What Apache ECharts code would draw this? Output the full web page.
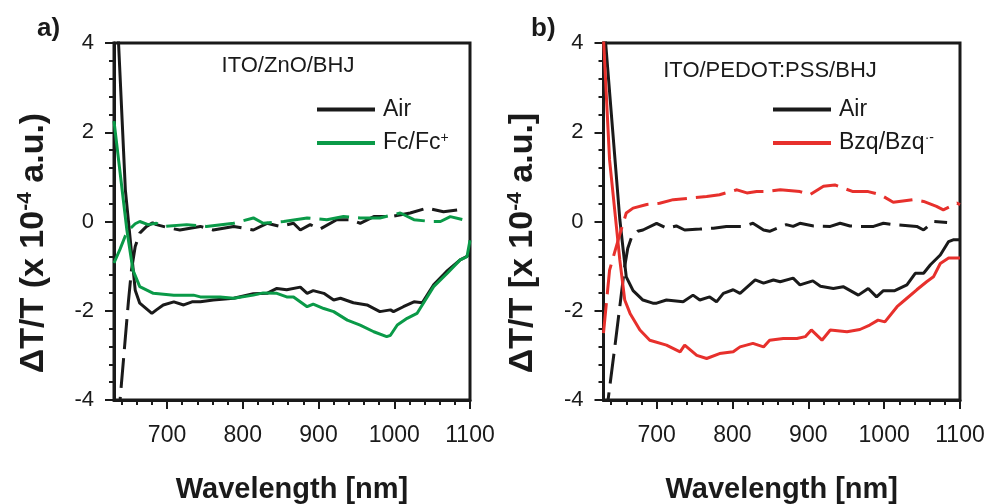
<!DOCTYPE html>
<html lang="en">
<head>
<meta charset="UTF-8">
<title>dT/T spectra</title>
<script src="https://cdn.jsdelivr.net/npm/echarts@6/dist/echarts.min.js"></script>
<style>
    html, body { margin: 0; padding: 0; background: #fff; }
    #main { width: 989px; height: 504px; }
</style>
</head>
<body>
<div id="main"></div>
<script>
    // ---- panel a) ITO/ZnO/BHJ ----
    var airA_wl = [632, 636, 645, 658, 664, 680, 686, 695, 709, 722, 733, 744, 761, 788, 814, 832, 845, 858, 876, 885, 893, 907, 920, 929, 946, 964, 981, 995, 999, 1012, 1026, 1037, 1052, 1069, 1087, 1095, 1100];
    var airA_val = [5.5, 4.0, 0.71, -1.54, -1.83, -2.06, -1.98, -1.87, -1.80, -1.87, -1.80, -1.80, -1.76, -1.72, -1.62, -1.61, -1.50, -1.53, -1.47, -1.61, -1.55, -1.61, -1.76, -1.72, -1.82, -1.87, -2.02, -1.98, -2.02, -1.91, -1.80, -1.82, -1.42, -1.12, -0.86, -0.79, -0.72];
    var airA_dash_wl = [635, 638, 644, 649, 653, 658, 664, 673, 681, 686, 704, 717, 744, 761, 788, 814, 832, 849, 867, 876, 889, 902, 924, 942, 955, 973, 995, 1021, 1043, 1065, 1083];
    var airA_dash_val = [-4.6, -4.0, -2.8, -1.8, -1.1, -0.56, -0.26, -0.11, -0.03, -0.07, -0.15, -0.19, -0.11, -0.19, -0.11, -0.19, -0.04, -0.11, -0.04, -0.19, -0.07, -0.17, 0.04, 0.04, -0.04, 0.11, 0.11, 0.19, 0.30, 0.22, 0.26];
    var fc_wl = [630, 647, 655, 664, 682, 709, 735, 744, 770, 788, 814, 827, 845, 858, 867, 885, 893, 907, 920, 938, 955, 973, 990, 995, 1004, 1017, 1030, 1052, 1070, 1087, 1096, 1100];
    var fc_val = [2.25, -0.19, -1.09, -1.46, -1.61, -1.65, -1.65, -1.69, -1.69, -1.72, -1.65, -1.60, -1.61, -1.69, -1.69, -1.91, -1.85, -1.95, -2.02, -2.21, -2.32, -2.47, -2.58, -2.55, -2.32, -2.17, -2.06, -1.46, -1.16, -0.86, -0.79, -0.42];
    var fc_dash_wl = [630, 638, 645, 652, 658, 664, 675, 686, 695, 726, 752, 788, 814, 827, 854, 885, 911, 933, 955, 981, 1008, 1026, 1048, 1061, 1074, 1096, 1100];
    var fc_dash_val = [-0.93, -0.62, -0.32, -0.15, -0.05, 0.0, -0.07, -0.04, -0.11, -0.07, -0.11, -0.04, 0.08, -0.04, 0.0, 0.08, 0.04, 0.11, 0.08, 0.08, 0.19, 0.04, 0.0, 0.0, 0.11, 0.02, 0.0];

    // ---- panel b) ITO/PEDOT:PSS/BHJ ----
    var airB_wl = [630, 651.5, 656, 660, 669, 682, 695, 700, 713, 735, 748, 757, 770, 779, 788, 801, 810, 830, 841, 854, 863, 880, 889, 906, 916, 933, 946, 966, 979, 990, 999, 1014, 1030, 1041, 1052, 1061, 1074, 1085, 1091, 1100];
    var airB_val = [4.6, 0.05, -0.64, -1.24, -1.55, -1.76, -1.83, -1.83, -1.76, -1.80, -1.65, -1.76, -1.69, -1.80, -1.61, -1.53, -1.61, -1.31, -1.38, -1.31, -1.35, -1.27, -1.42, -1.33, -1.45, -1.50, -1.46, -1.65, -1.50, -1.69, -1.55, -1.55, -1.42, -1.16, -1.16, -0.97, -0.75, -0.45, -0.41, -0.41];
    var airB_dash_wl = [634, 636, 645, 653, 658, 662, 667, 675, 682, 700, 713, 726, 737, 757, 775, 792, 814, 827, 841, 849, 871, 880, 889, 907, 929, 942, 955, 968, 986, 999, 1012, 1043, 1052, 1065, 1083];
    var airB_dash_val = [-4.5, -4.0, -2.8, -1.7, -1.0, -0.6, -0.35, -0.22, -0.19, -0.04, -0.15, -0.10, -0.19, -0.17, -0.15, -0.11, -0.11, -0.04, -0.19, -0.22, -0.07, -0.11, -0.04, -0.10, -0.11, -0.04, -0.10, -0.11, -0.11, -0.04, -0.07, -0.11, -0.19, 0.0, -0.02];
    var bzq_wl = [630, 638, 651.5, 658, 665, 678, 691, 713, 731, 737, 753, 766, 783, 801, 810, 827, 841, 849, 867, 885, 896, 904, 918, 929, 951, 968, 981, 992, 1001, 1017, 1030, 1043, 1056, 1065, 1074, 1085, 1100];
    var bzq_val = [4.1, 1.38, -0.86, -1.76, -2.06, -2.43, -2.66, -2.77, -2.92, -2.77, -3.0, -3.07, -2.96, -2.92, -2.81, -2.73, -2.81, -2.66, -2.62, -2.62, -2.58, -2.43, -2.66, -2.43, -2.47, -2.42, -2.32, -2.21, -2.25, -1.91, -1.72, -1.53, -1.35, -1.24, -0.94, -0.82, -0.82];
    var bzq_dash_wl = [630, 638, 643, 652, 660, 669, 687, 704, 722, 748, 766, 783, 806, 819, 832, 845, 863, 889, 902, 920, 935, 946, 959, 979, 995, 1012, 1039, 1052, 1069, 1078, 1096, 1100];
    var bzq_dash_val = [-2.5, -1.09, -0.79, -0.26, 0.19, 0.30, 0.38, 0.41, 0.49, 0.53, 0.56, 0.60, 0.71, 0.64, 0.67, 0.67, 0.71, 0.67, 0.60, 0.79, 0.82, 0.75, 0.67, 0.67, 0.60, 0.43, 0.49, 0.45, 0.34, 0.26, 0.41, 0.38];

    var BLACK = '#1a1a1a', GREEN = '#0a9a48', RED = '#e7302c';
    var FONT = 'Liberation Sans, Arial, sans-serif';
    var DASH = [30, 9];
    var WL_MIN = 630, WL_MAX = 1100;

    // plot boxes [left, top, width, height]
    var boxA = [114, 43, 356, 357];
    var boxB = [603.5, 43, 356.5, 357];

    function pairs(xs, ys) {
        return xs.map(function (x, i) { return [x, ys[i]]; });
    }

    function plotGrid(box) {
        return { left: box[0], top: box[1], width: box[2], height: box[3], show: true,
            borderColor: BLACK, borderWidth: 3, containLabel: false, outerBoundsMode: 'none' };
    }
    // grid covering the wavelength span [from, WL_MAX] of a plot box, used only for tick marks
    function tickGrid(box, from) {
        var k = box[2] / (WL_MAX - WL_MIN);
        return { left: box[0] + (from - WL_MIN) * k, top: box[1], width: (WL_MAX - from) * k, height: box[3],
            show: false, containLabel: false, outerBoundsMode: 'none' };
    }

    function xMainAxis(g) {
        return {
            type: 'value', gridIndex: g, min: WL_MIN, max: WL_MAX, position: 'bottom',
            axisLine: { show: true, onZero: false, lineStyle: { color: BLACK, width: 3 } },
            axisTick: { show: false },
            axisLabel: { show: false },
            splitLine: { show: false },
            name: 'Wavelength [nm]', nameLocation: 'middle', nameGap: 75,
            nameTextStyle: { fontSize: 29, fontWeight: 'bold', color: BLACK, fontFamily: FONT }
        };
    }
    function xTickAxis(g, from, step, len, labels) {
        return {
            type: 'value', gridIndex: g, min: from, max: WL_MAX, interval: step, position: 'bottom',
            axisLine: { show: false, onZero: false },
            axisTick: { show: true, length: len, lineStyle: { color: BLACK, width: 2 } },
            axisLabel: { show: labels, fontSize: 23, color: BLACK, fontFamily: FONT, margin: 24,
                formatter: function (v) { return String(v); } },
            splitLine: { show: false }
        };
    }
    function yAxis(g, name) {
        return {
            type: 'value', gridIndex: g, min: -4, max: 4, interval: 2,
            axisLine: { show: true, onZero: false, lineStyle: { color: BLACK, width: 3 } },
            axisTick: { show: true, length: 9, lineStyle: { color: BLACK, width: 2 } },
            minorTick: { show: true, splitNumber: 5, length: 5, lineStyle: { color: BLACK, width: 2 } },
            axisLabel: { fontSize: 22, color: BLACK, fontFamily: FONT, margin: 20 },
            splitLine: { show: false },
            name: name, nameLocation: 'middle', nameGap: 62, nameRotate: 90,
            nameTextStyle: {
                color: BLACK, fontFamily: FONT, padding: [0, 43, 0, 0],
                rich: {
                    b: { fontSize: 34, fontWeight: 'bold', fontFamily: FONT, color: BLACK, lineHeight: 37 },
                    s: { fontSize: 21, fontWeight: 'bold', fontFamily: FONT, color: BLACK, verticalAlign: 'top', lineHeight: 37 }
                }
            }
        };
    }
    function line(name, xi, yi, xs, ys, color, dashed) {
        return {
            type: 'line', name: name, xAxisIndex: xi, yAxisIndex: yi,
            data: pairs(xs, ys), symbol: 'none', showSymbol: false, clip: true,
            lineStyle: { color: color, width: 3, type: dashed ? DASH : 'solid' },
            itemStyle: { color: color }
        };
    }
    function legend(names, left) {
        return {
            data: names.map(function (n) { return { name: n, icon: 'rect' }; }),
            orient: 'vertical', left: left, top: 93,
            itemWidth: 58, itemHeight: 4, itemGap: 10,
            textStyle: {
                fontSize: 23, color: BLACK, fontFamily: FONT, padding: [0, 0, 0, 3],
                rich: {
                    t: { fontSize: 23, fontFamily: FONT, color: BLACK, lineHeight: 24 },
                    s: { fontSize: 14, fontFamily: FONT, color: BLACK, verticalAlign: 'top', lineHeight: 24 }
                }
            },
            formatter: function (n) {
                if (n === 'Fc/Fc+') return '{t|Fc/Fc}{s|+}';
                if (n === 'Bzq/Bzq·-') return '{t|Bzq/Bzq}{s|·-}';
                return '{t|' + n + '}';
            }
        };
    }

    var myChart = echarts.init(document.getElementById('main'));
    var option = {
        animation: false,
        backgroundColor: '#fff',
        grid: [
            plotGrid(boxA), plotGrid(boxB),
            tickGrid(boxA, 700), tickGrid(boxA, 640),
            tickGrid(boxB, 700), tickGrid(boxB, 640)
        ],
        xAxis: [
            xMainAxis(0), xMainAxis(1),
            xTickAxis(2, 700, 100, 9, true), xTickAxis(3, 640, 20, 5, false),
            xTickAxis(4, 700, 100, 9, true), xTickAxis(5, 640, 20, 5, false)
        ],
        yAxis: [
            yAxis(0, '{b|ΔT/T (x 10}{s|-4}{b| a.u.)}'),
            yAxis(1, '{b|ΔT/T [x 10}{s|-4}{b| a.u.]}'),
            { gridIndex: 2, show: false }, { gridIndex: 3, show: false },
            { gridIndex: 4, show: false }, { gridIndex: 5, show: false }
        ],
        legend: [legend(['Air', 'Fc/Fc+'], 312), legend(['Air', 'Bzq/Bzq·-'], 768)],
        series: [
            line('Air', 0, 0, airA_wl, airA_val, BLACK, false),
            line('Air', 0, 0, airA_dash_wl, airA_dash_val, BLACK, true),
            line('Fc/Fc+', 0, 0, fc_wl, fc_val, GREEN, false),
            line('Fc/Fc+', 0, 0, fc_dash_wl, fc_dash_val, GREEN, true),
            line('Air', 1, 1, airB_wl, airB_val, BLACK, false),
            line('Air', 1, 1, airB_dash_wl, airB_dash_val, BLACK, true),
            line('Bzq/Bzq·-', 1, 1, bzq_wl, bzq_val, RED, false),
            line('Bzq/Bzq·-', 1, 1, bzq_dash_wl, bzq_dash_val, RED, true)
        ],
        graphic: [
            { type: 'text', left: 37, top: 16, style: { text: 'a)', fontSize: 26, fontWeight: 'bold', fill: BLACK, fontFamily: FONT } },
            { type: 'text', left: 531, top: 16, style: { text: 'b)', fontSize: 26, fontWeight: 'bold', fill: BLACK, fontFamily: FONT } },
            { type: 'text', x: 288, y: 66, style: { text: 'ITO/ZnO/BHJ', fontSize: 22, fill: BLACK, fontFamily: FONT, align: 'center', verticalAlign: 'middle' } },
            { type: 'text', x: 770, y: 71, style: { text: 'ITO/PEDOT:PSS/BHJ', fontSize: 22, fill: BLACK, fontFamily: FONT, align: 'center', verticalAlign: 'middle' } }
        ]
    };
    myChart.setOption(option);
</script>
</body>
</html>
